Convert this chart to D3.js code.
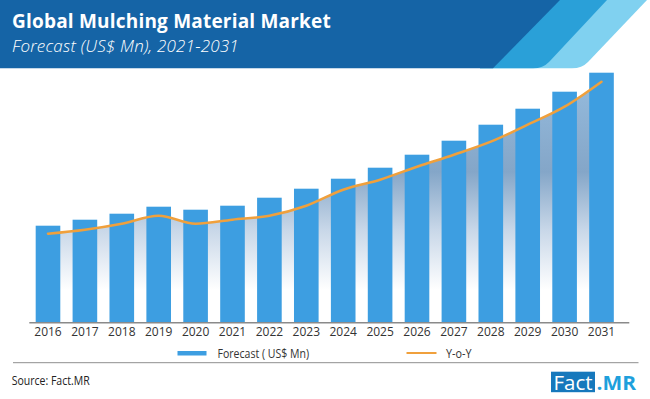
<!DOCTYPE html>
<html>
<head>
<meta charset="utf-8">
<script src="https://cdn.jsdelivr.net/npm/d3@7"></script>
<style>
  body { margin: 0; background: #fff; }
  #graphicContainer { width: 650px; height: 399px; }
  svg { display: block; }
</style>
</head>
<body>
<div id="graphicContainer"></div>
<script>

// values (no y axis in the original, so relative units)

var years = ["2016", "2017", "2018", "2019", "2020", "2021", "2022", "2023",
	"2024", "2025", "2026", "2027", "2028", "2029", "2030", "2031"];

var forecast = [97, 103, 109, 116, 113, 117, 125, 134, 144, 155, 168, 182, 198, 214, 231, 250];

var yoy = [89, 93, 99, 107, 99, 103, 107, 117, 133, 143, 156, 168, 181, 198, 216, 241];

var legend_labels = ["Forecast ( US$ Mn)", "Y-o-Y"];

var bar_colour = "rgb(61, 158, 225)";
var line_colour = "rgb(240, 160, 60)";

function draw_chart() {

		var width = 650,
			height = 399;

		var baseline = 322.7;

		d3.select("#graphicContainer svg").remove();

		var svg = d3.select("#graphicContainer").append("svg")
			.attr("width", width)
			.attr("height", height)
			.attr("font-family", "'Open Sans', sans-serif");

		var defs = svg.append("defs");

		// fade under the line, darkest a little below the top

		var grad = defs.append("linearGradient")
			.attr("id", "fade")
			.attr("gradientUnits", "userSpaceOnUse")
			.attr("x1", 0).attr("x2", 0)
			.attr("y1", 75).attr("y2", 290);

		grad.append("stop").attr("offset", 0).attr("stop-color", "rgb(150, 188, 222)");
		grad.append("stop").attr("offset", 0.45).attr("stop-color", "rgb(132, 166, 200)");
		grad.append("stop").attr("offset", 0.72).attr("stop-color", "rgb(200, 215, 232)");
		grad.append("stop").attr("offset", 1).attr("stop-color", "#ffffff");

		// header band with the stripes on the right

		var header = svg.append("g");

		header.append("path")
			.attr("d", "M480,0 L647,0 L588,62 Q582,68.3 572,68.3 L480,68.3 Z")
			.attr("fill", "rgb(128, 209, 240)");

		header.append("path")
			.attr("d", "M480,0 L607,0 L549,62 Q543,68.3 533,68.3 L480,68.3 Z")
			.attr("fill", "rgb(42, 160, 216)");

		header.append("path")
			.attr("d", "M0,0 L560,0 L493,68.3 L0,68.3 Z")
			.attr("fill", "rgb(21, 100, 166)");

		header.append("text")
			.attr("x", 12)
			.attr("y", 28)
			.attr("fill", "#fff")
			.attr("font-size", 19)
			.attr("font-weight", "bold")
			.attr("letter-spacing", 0.2)
			.text("Global Mulching Material Market");

		header.append("text")
			.attr("x", 12)
			.attr("y", 52)
			.attr("fill", "#fff")
			.attr("font-size", 17)
			.attr("font-style", "italic")
			.attr("font-weight", 300)
			.attr("letter-spacing", 0.2)
			.text("Forecast (US$ Mn), 2021-2031");

		// scales

		var x = d3.scaleBand()
			.domain(years)
			.range([23.4, 626.1])
			.padding(0.333);

		var y = d3.scaleLinear()
			.domain([0, 250])
			.range([baseline, 72.7]);

		var line = d3.line()
			.x((d, i) => x(years[i]) + x.bandwidth() / 2)
			.y(d => y(d))
			.curve(d3.curveMonotoneX);

		var area = d3.area()
			.x((d, i) => x(years[i]) + x.bandwidth() / 2)
			.y0(baseline)
			.y1(d => y(d))
			.curve(d3.curveMonotoneX);

		svg.append("path")
			.datum(yoy)
			.attr("d", area)
			.attr("fill", "url(#fade)");

		svg.append("g")
			.selectAll("rect")
			.data(forecast)
			.enter()
			.append("rect")
			.attr("x", (d, i) => x(years[i]))
			.attr("y", d => y(d))
			.attr("width", x.bandwidth())
			.attr("height", d => baseline - y(d))
			.attr("fill", bar_colour);

		svg.append("path")
			.datum(yoy)
			.attr("d", line)
			.attr("fill", "none")
			.attr("stroke", line_colour)
			.attr("stroke-width", 2.5)
			.attr("stroke-linecap", "round");

		// x axis

		svg.append("line")
			.attr("x1", 29.3).attr("x2", 629.3)
			.attr("y1", baseline).attr("y2", baseline)
			.attr("stroke", "#8a8a8a")
			.attr("stroke-width", 1.5);

		svg.append("g")
			.attr("transform", `translate(0,${baseline})`)
			.call(d3.axisBottom(x).tickSize(0).tickPadding(5))
			.call(g => g.select(".domain").remove())
			.call(g => g.selectAll("text")
				.attr("fill", "#333")
				.attr("font-size", 12)
				.attr("font-family", "'Open Sans', sans-serif"));

		// legend

		var legend = svg.append("g");

		legend.append("rect")
			.attr("x", 177.5).attr("y", 351)
			.attr("width", 29).attr("height", 4.5)
			.attr("fill", bar_colour);

		legend.append("text")
			.attr("x", 217.5).attr("y", 357.5)
			.attr("font-size", 12.5)
			.attr("fill", "#333")
			.attr("textLength", 91.5)
			.attr("lengthAdjust", "spacingAndGlyphs")
			.text(legend_labels[0]);

		legend.append("line")
			.attr("x1", 406.5).attr("x2", 436.5)
			.attr("y1", 353).attr("y2", 353)
			.attr("stroke", line_colour)
			.attr("stroke-width", 2);

		legend.append("text")
			.attr("x", 446).attr("y", 357.5)
			.attr("font-size", 12.5)
			.attr("fill", "#333")
			.attr("textLength", 25.5)
			.attr("lengthAdjust", "spacingAndGlyphs")
			.text(legend_labels[1]);

		// footer

		svg.append("line")
			.attr("x1", 13).attr("x2", 638.5)
			.attr("y1", 362.7).attr("y2", 362.7)
			.attr("stroke", "#8f8f8f")
			.attr("stroke-width", 1);

		svg.append("text")
			.attr("x", 11.7).attr("y", 385)
			.attr("font-size", 13)
			.attr("fill", "#222")
			.attr("textLength", 78)
			.attr("lengthAdjust", "spacingAndGlyphs")
			.text("Source: Fact.MR");

		var logo = svg.append("g");

		logo.append("rect")
			.attr("x", 551).attr("y", 371.7)
			.attr("width", 44).attr("height", 20.5)
			.attr("fill", "rgb(22, 120, 188)");

		logo.append("text")
			.attr("x", 553.5).attr("y", 389.5)
			.attr("font-size", 20)
			.attr("fill", "#fff")
			.attr("textLength", 39)
			.attr("lengthAdjust", "spacingAndGlyphs")
			.text("Fact");

		logo.append("text")
			.attr("x", 596.5).attr("y", 389.5)
			.attr("font-size", 20)
			.attr("font-weight", "bold")
			.attr("fill", "rgb(30, 160, 220)")
			.attr("textLength", 39.5)
			.attr("lengthAdjust", "spacingAndGlyphs")
			.text(".MR");
}

draw_chart();

</script>
</body>
</html>
